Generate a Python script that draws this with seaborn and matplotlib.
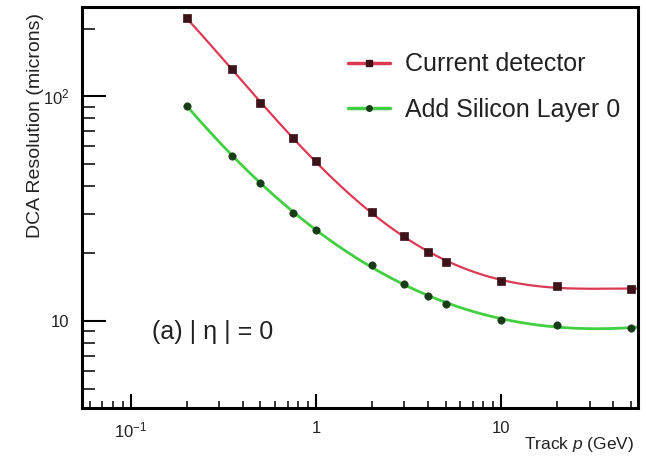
import numpy as np
import pandas as pd
import seaborn as sns
import matplotlib
matplotlib.use("Agg")
import matplotlib.pyplot as plt
from matplotlib.lines import Line2D
from matplotlib.ticker import LogLocator, FixedLocator, FixedFormatter, NullFormatter

# ---- data ----
momentum = [0.2, 0.35, 0.5, 0.75, 1.0, 2.0, 3.0, 4.0, 5.0, 10.0, 20.0, 50.0]
current_detector = [223, 132, 93, 65, 51.3, 30.7, 23.9, 20.3, 18.3, 15.1, 14.3, 13.9]
add_layer0 = [91, 54.5, 41, 30.3, 25.5, 17.8, 14.6, 12.9, 11.9, 10.1, 9.6, 9.3]
series_names = ["Current detector", "Add Silicon Layer 0"]
x_tick_values = [0.1, 1, 10]
x_tick_labels = [r"$10^{-1}$", "1", "10"]
y_tick_values = [10, 100]
y_tick_labels = ["10", r"$10^{2}$"]

sns.set_theme(style="white")
plt.rcParams["font.family"] = ["Liberation Sans", "DejaVu Sans"]
plt.rcParams["mathtext.fontset"] = "custom"
plt.rcParams["mathtext.rm"] = "Liberation Sans"
plt.rcParams["mathtext.it"] = "Liberation Sans:italic"

df = pd.DataFrame({
    "p": momentum * 2,
    "dca": current_detector + add_layer0,
    "series": [series_names[0]] * len(momentum) + [series_names[1]] * len(momentum),
})

# smooth fit curves (polynomial in log-log space)
fit_rows = []
grid = np.logspace(np.log10(0.2), np.log10(55), 200)
for name, vals in zip(series_names, [current_detector, add_layer0]):
    c = np.polyfit(np.log10(momentum), np.log10(vals), 4)
    yy = 10 ** np.polyval(c, np.log10(grid))
    fit_rows.append(pd.DataFrame({"p": grid, "dca": yy, "series": name}))
fit_df = pd.concat(fit_rows)

line_colors = {series_names[0]: "#dc3a55", series_names[1]: "#42d042"}
line_widths = {series_names[0]: 1.6, series_names[1]: 2.0}
marker_colors = {series_names[0]: "#3e1219", series_names[1]: "#183c18"}

fig = plt.figure(figsize=(6.46, 4.59), dpi=100)
ax = fig.add_axes([0.127, 0.111, 0.861, 0.874])

for name in series_names:
    sns.lineplot(data=fit_df[fit_df["series"] == name], x="p", y="dca",
                 color=line_colors[name], linewidth=line_widths[name],
                 legend=False, ax=ax, sort=False, estimator=None)
for name, mk in zip(series_names, ["s", "o"]):
    sub = df[df["series"] == name]
    sns.scatterplot(data=sub, x="p", y="dca", color=marker_colors[name], marker=mk,
                    s=28, edgecolor=marker_colors[name], linewidth=0.5, ax=ax,
                    legend=False, zorder=5)

ax.set_xscale("log")
ax.set_yscale("log")
ax.set_xlim(0.0543, 55)
ax.set_ylim(4.1, 250)

ax.xaxis.set_major_locator(FixedLocator(x_tick_values))
ax.xaxis.set_major_formatter(FixedFormatter(x_tick_labels))
ax.xaxis.set_minor_locator(LogLocator(base=10, subs=np.arange(2, 10)))
ax.xaxis.set_minor_formatter(NullFormatter())
ax.yaxis.set_major_locator(FixedLocator(y_tick_values))
ax.yaxis.set_major_formatter(FixedFormatter(y_tick_labels))
ax.yaxis.set_minor_locator(LogLocator(base=10, subs=np.arange(2, 10)))
ax.yaxis.set_minor_formatter(NullFormatter())

ax.tick_params(axis="x", which="major", direction="in", length=10, width=1.5,
               labelsize=12, pad=9, bottom=True, top=False, colors="black",
               labelcolor="#222222")
ax.tick_params(axis="x", which="minor", direction="in", length=5, width=1.3,
               bottom=True, top=False)
ax.tick_params(axis="y", which="major", direction="in", length=17, width=1.5,
               labelsize=12, pad=9, left=True, right=False, colors="black",
               labelcolor="#222222")
ax.tick_params(axis="y", which="minor", direction="in", length=9, width=1.3,
               left=True, right=False)
for s in ax.spines.values():
    s.set_color("black")
    s.set_linewidth(2.2)

ax.set_xlabel("")
ax.set_ylabel("")
fig.text(0.982, 0.031, r"Track $\it{p}$ (GeV)", ha="right", va="center",
         fontsize=12.5, color="#222222")
fig.text(0.055, 0.972, "DCA Resolution (microns)", rotation=90, ha="center",
         va="top", fontsize=14, color="#222222")

handles = [
    Line2D([], [], color=line_colors[series_names[0]], linewidth=2.5, marker="s",
           markersize=4.5, markerfacecolor=marker_colors[series_names[0]],
           markeredgecolor=marker_colors[series_names[0]]),
    Line2D([], [], color=line_colors[series_names[1]], linewidth=2.5, marker="o",
           markersize=4, markerfacecolor=marker_colors[series_names[1]],
           markeredgecolor=marker_colors[series_names[1]]),
]
leg = ax.legend(handles, series_names, loc="upper left", bbox_to_anchor=(0.437, 0.943),
                frameon=False, fontsize=18, handlelength=1.7, handletextpad=0.6,
                labelspacing=0.85)
for t in leg.get_texts():
    t.set_color("#222222")

ax.text(0.125, 0.19, "(a) | η | = 0", transform=ax.transAxes, fontsize=18,
        color="#222222", ha="left", va="center")

fig.savefig("out.png", dpi=100)
